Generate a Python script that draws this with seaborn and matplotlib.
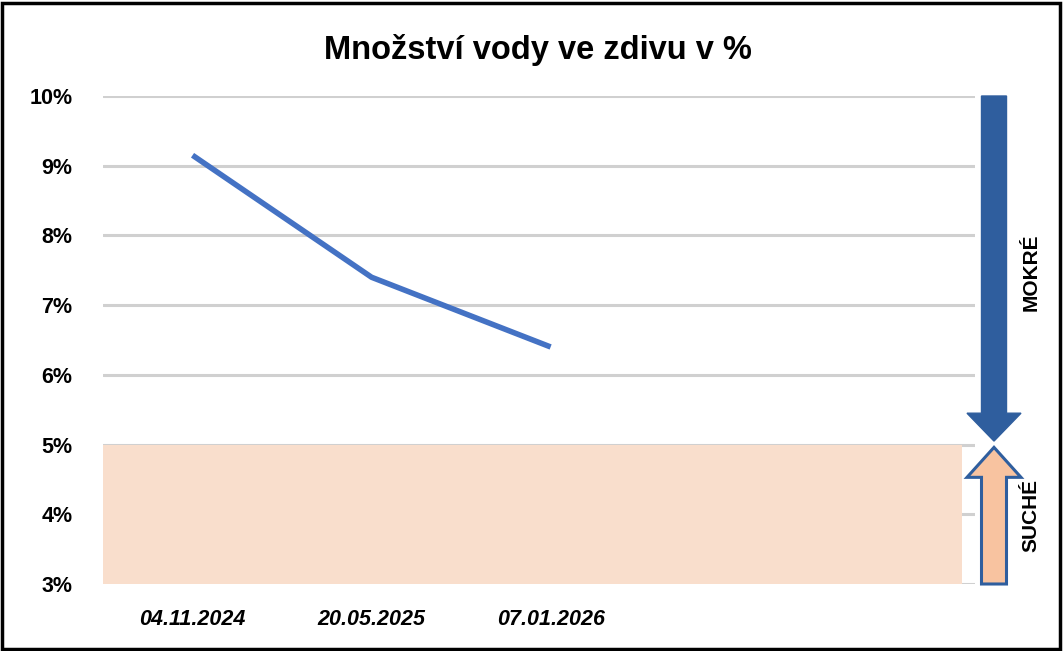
import matplotlib
matplotlib.use("Agg")
import matplotlib.pyplot as plt
import matplotlib.transforms as mtrans
from matplotlib.patches import Polygon, Rectangle
import seaborn as sns
import pandas as pd

# ---- data ----
dates = ["04.11.2024", "20.05.2025", "07.01.2026"]
moisture = [9.15, 7.4, 6.4]
y_ticks = [3, 4, 5, 6, 7, 8, 9, 10]
dry_limit = 5
y_min, y_max = 3, 10
title = "Množství vody ve zdivu v %"
wet_label = "MOKRÉ"
dry_label = "SUCHÉ"

sns.set_theme(style="white")
FONT = ["Liberation Sans", "DejaVu Sans"]
plt.rcParams["font.family"] = FONT
plt.rcParams["text.color"] = "black"
plt.rcParams["xtick.color"] = "black"
plt.rcParams["ytick.color"] = "black"

fig = plt.figure(figsize=(10.63, 6.51), dpi=100)
ax = fig.add_axes([103 / 1063, 1 - 584 / 651, 872 / 1063, 488 / 651])

df = pd.DataFrame({"date": dates, "moisture": moisture})
sns.lineplot(data=df, x="date", y="moisture", ax=ax, color="#4472C4",
             linewidth=4.0, solid_capstyle="butt", zorder=4)

ax.set_xlim(-0.5, 4.37)
ax.set_ylim(y_min, y_max)
ax.set_yticks(y_ticks)
ax.set_yticklabels([f"{t}%" for t in y_ticks], fontsize=15.5, fontweight="bold")
ax.set_xticks(range(len(dates)))
ax.set_xticklabels(dates, fontsize=15.5, fontweight="bold", style="italic")
ax.tick_params(axis="y", length=0, pad=22, labelcolor="black")
ax.tick_params(axis="x", length=0, pad=18, labelcolor="black")
ax.set_xlabel("")
ax.set_ylabel("")
for s in ax.spines.values():
    s.set_visible(False)
ax.grid(axis="y", color="#D0D0D0", linewidth=2.2, zorder=0)
ax.set_axisbelow(True)

# dry band
ax.axhspan(y_min, dry_limit, xmin=0, xmax=(4.30 + 0.5) / (4.37 + 0.5),
           color="#F9DECC", zorder=1, linewidth=0)

# arrows (x in axes fraction, y in data)
tr = mtrans.blended_transform_factory(ax.transAxes, ax.transData)
cx = (994 - 103) / 872
sw = 12.5 / 872
hw = 27 / 872
down = Polygon([(cx - sw, y_max), (cx + sw, y_max), (cx + sw, 5.45),
                (cx + hw, 5.45), (cx, 5.05), (cx - hw, 5.45), (cx - sw, 5.45)],
               closed=True, transform=tr, clip_on=False,
               facecolor="#2F5E9E", edgecolor="#2F5E9E", linewidth=1, zorder=5)
ax.add_patch(down)
up = Polygon([(cx - sw, y_min), (cx + sw, y_min), (cx + sw, 4.53),
              (cx + hw, 4.53), (cx, 4.96), (cx - hw, 4.53), (cx - sw, 4.53)],
             closed=True, transform=tr, clip_on=False,
             facecolor="#F8C3A0", edgecolor="#2F5E9E", linewidth=2.2, zorder=5,
             joinstyle="miter")
ax.add_patch(up)

tx = (1031 - 103) / 872
ax.text(tx, 7.47, wet_label, transform=tr, rotation=90,
        ha="center", va="center", fontsize=15, fontweight="bold", clip_on=False)
ax.text(tx, 3.98, dry_label, transform=tr, rotation=90,
        ha="center", va="center", fontsize=15, fontweight="bold", clip_on=False)

fig.text(538 / 1063, 1 - 50 / 651, title, ha="center", va="center",
         fontsize=23.5, fontweight="bold", color="black")

# outer border
fig.patches.append(Rectangle((2 / 1063, 2 / 651), 1 - 5 / 1063, 1 - 5 / 651,
                             transform=fig.transFigure, fill=False,
                             edgecolor="black", linewidth=2.5))

fig.savefig("out.png", dpi=100)
